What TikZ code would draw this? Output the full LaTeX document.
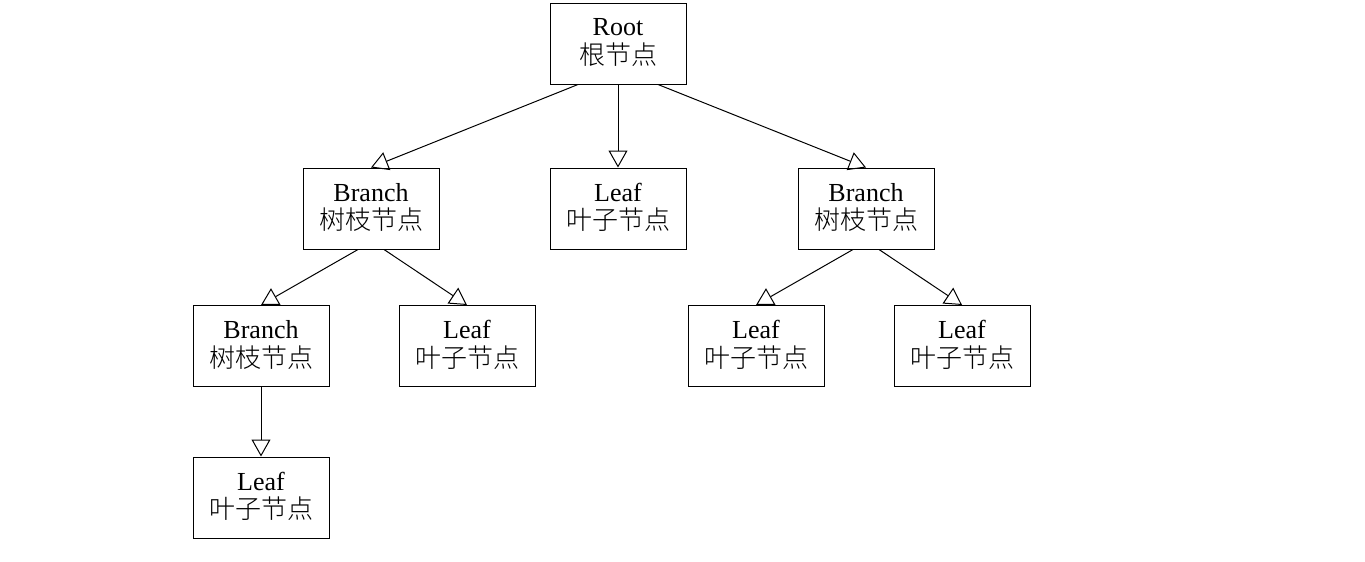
\documentclass[tikz,border=0pt]{standalone}
\usepackage{fontspec}
\setmainfont{Liberation Serif}
\newfontfamily\cjk{Noto Sans CJK SC}[UprightFont=* Light]
\usetikzlibrary{arrows.meta}
\tikzset{
  box/.style={draw, line width=1pt, minimum width=136pt, minimum height=81pt, inner sep=0pt, align=center,
    font=\fontsize{26}{28.5}\selectfont},
  edge/.style={line width=1pt, -{Triangle[open,length=17pt,width=19pt]}}
}
\newcommand{\lbl}[2]{#1\\{\cjk #2}\rule[-4pt]{0pt}{4pt}}
\begin{document}
\begin{tikzpicture}[x=1pt,y=-1pt]
\useasboundingbox (0,0) rectangle (1365,562);
\node[box] (root) at (618,43.5) {\lbl{Root}{根节点}};
\node[box] (b1) at (371,208.5) {\lbl{Branch}{树枝节点}};
\node[box] (l1) at (618,208.5) {\lbl{Leaf}{叶子节点}};
\node[box] (b3) at (866,208.5) {\lbl{Branch}{树枝节点}};
\node[box] (b2) at (261,346) {\lbl{Branch}{树枝节点}};
\node[box] (l2) at (467,346) {\lbl{Leaf}{叶子节点}};
\node[box] (l3) at (756,346) {\lbl{Leaf}{叶子节点}};
\node[box] (l4) at (962,346) {\lbl{Leaf}{叶子节点}};
\node[box] (l5) at (261,497.5) {\lbl{Leaf}{叶子节点}};
\draw[edge] ([xshift=-40pt]root.south) -- (b1.north);
\draw[edge] (root.south) -- (l1.north);
\draw[edge] ([xshift=40pt]root.south) -- (b3.north);
\draw[edge] ([xshift=-13pt]b1.south) -- (b2.north);
\draw[edge] ([xshift=13pt]b1.south) -- (l2.north);
\draw[edge] ([xshift=-13pt]b3.south) -- (l3.north);
\draw[edge] ([xshift=13pt]b3.south) -- (l4.north);
\draw[edge] (b2.south) -- (l5.north);
\end{tikzpicture}
\end{document}
